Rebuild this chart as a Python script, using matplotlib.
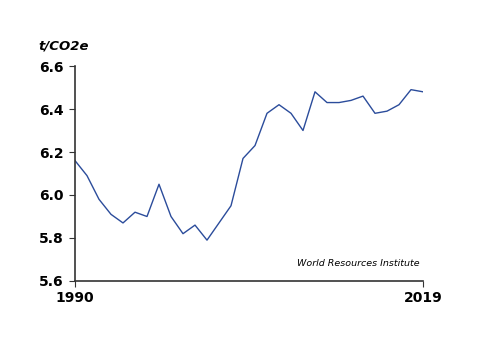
import matplotlib.pyplot as plt

years = list(range(1990, 2020))
values = [6.16, 6.09, 5.98, 5.91, 5.87, 5.92, 5.90, 6.05, 5.90, 5.82,
          5.86, 5.79, 5.87, 5.95, 6.17, 6.23, 6.38, 6.42, 6.38, 6.30,
          6.48, 6.43, 6.43, 6.44, 6.46, 6.38, 6.39, 6.42, 6.49, 6.48]

fig = plt.figure(figsize=(5, 3.53), dpi=100)
ax = fig.add_axes([0.15, 0.204, 0.696, 0.609])

ax.plot(years, values, color='#2b4c9b', linewidth=1)

ax.set_xlim(1990, 2019)
ax.set_ylim(5.6, 6.6)
ax.set_xticks([1990, 2019])
ax.set_yticks([5.6, 5.8, 6.0, 6.2, 6.4, 6.6])
ax.set_yticklabels(['5.6', '5.8', '6.0', '6.2', '6.4', '6.6'])

for s in ['top', 'right']:
    ax.spines[s].set_visible(False)
for s in ['left', 'bottom']:
    ax.spines[s].set_color('#333333')
    ax.spines[s].set_linewidth(1.2)

ax.tick_params(axis='y', length=4, color='#333333', labelsize=10, pad=4)
ax.tick_params(axis='x', length=4, color='#333333', labelsize=10, pad=3)
for lab in ax.get_xticklabels() + ax.get_yticklabels():
    lab.set_fontweight('bold')

fig.text(0.076, 0.86, 't/CO2e', fontsize=9.5, fontweight='bold', style='italic')
ax.text(0.99, 0.08, 'World Resources Institute', transform=ax.transAxes,
        ha='right', va='center', fontsize=6.8, style='italic')

plt.savefig('out.png', dpi=100)
